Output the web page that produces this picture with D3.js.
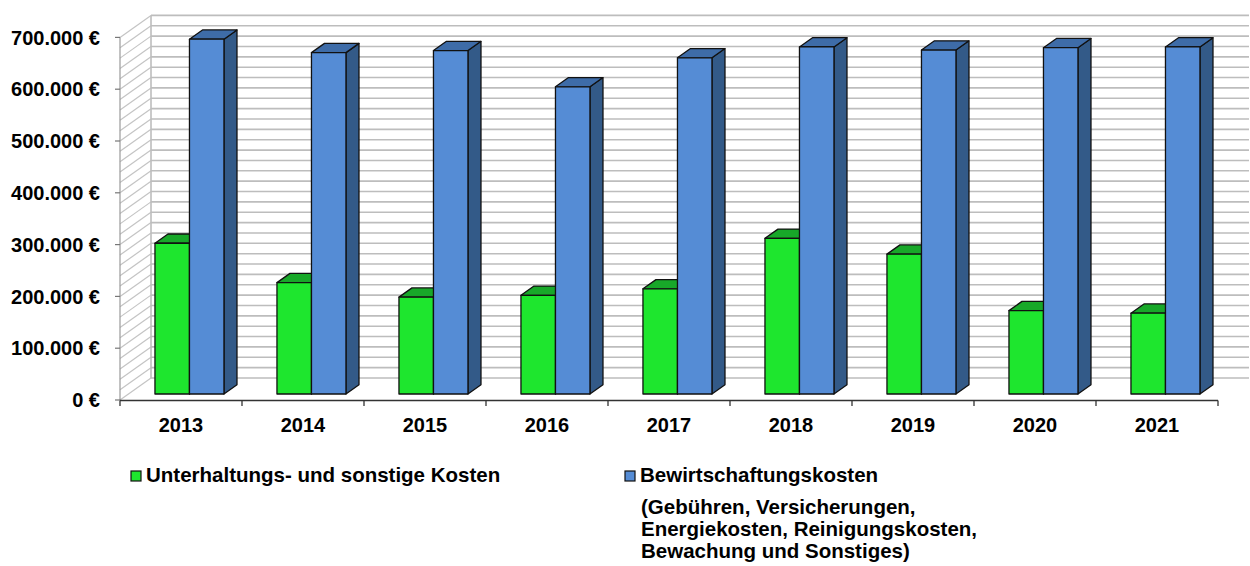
<!DOCTYPE html>
<html>
<head>
<meta charset="utf-8">
<script src="https://cdn.jsdelivr.net/npm/d3@7"></script>
<style>
  body { margin: 0; background: #fff; }
  text { font-family: "Liberation Sans", Arial, sans-serif; font-weight: bold; fill: #000; }
</style>
</head>
<body>
<script>
//chart data
var years = ["2013", "2014", "2015", "2016", "2017", "2018", "2019", "2020", "2021"];
var series = ["Unterhaltung", "Bewirtschaftung"];
var unterhaltung = [291000, 215000, 187000, 190500, 203000, 300500, 270000, 161000, 156000];
var bewirtschaftung = [685000, 659000, 663000, 593000, 649000, 670000, 664000, 668500, 670000];
var yTicks = [0, 100000, 200000, 300000, 400000, 500000, 600000, 700000];
var legendLabels = ["Unterhaltungs- und sonstige Kosten", "Bewirtschaftungskosten"];
var legendNote = ["(Gebühren, Versicherungen,", "Energiekosten, Reinigungskosten,", "Bewachung und Sonstiges)"];

window.onload = function(){
    var w = 1250, h = 566;

    var svg = d3.select("body")
        .append("svg")
        .attr("width", w)
        .attr("height", h);

    //depth of the 3d box
    var depthX = 31, depthY = -22;

    //scales
    var x = d3.scaleBand()
        .domain(years)
        .range([120, 1218]);

    var y = d3.scaleLinear()
        .domain([0, 700000])
        .range([400, 37.4]);

    //position of the bars inside a band
    var xs = d3.scaleBand()
        .domain(series)
        .range([26.5, 95.5]);

    //projects a point: px, value, depth (0 = front, 1 = back)
    function P(px, v, d){
        return [px + depthX * d, y(v) + depthY * d];
    }

    var fmt = function(v){
        return d3.format(",")(v).replace(/,/g, ".") + " €";
    };

    var grid = d3.range(0, 700001, 20000);

    //side wall diagonals
    svg.append("g").selectAll("line")
        .data(grid)
        .enter()
        .append("line")
        .attr("x1", function(d){ return P(120, d, 0)[0]; })
        .attr("y1", function(d){ return P(120, d, 0)[1]; })
        .attr("x2", function(d){ return P(120, d, 1)[0]; })
        .attr("y2", function(d){ return P(120, d, 1)[1]; })
        .style("stroke", "#c4c4c4")
        .style("stroke-width", 1.2);

    //back wall gridlines
    svg.append("g").selectAll("line")
        .data(grid)
        .enter()
        .append("line")
        .attr("x1", function(d){ return P(120, d, 1)[0]; })
        .attr("y1", function(d){ return P(120, d, 1)[1]; })
        .attr("x2", function(d){ return P(1218, d, 1)[0]; })
        .attr("y2", function(d){ return P(1218, d, 1)[1]; })
        .style("stroke", "#bdbdbd")
        .style("stroke-width", 1.6);

    //back wall left edge
    svg.append("line")
        .attr("x1", P(120, 0, 1)[0]).attr("y1", P(120, 0, 1)[1])
        .attr("x2", P(120, 700000, 1)[0]).attr("y2", P(120, 700000, 1)[1])
        .style("stroke", "#bdbdbd")
        .style("stroke-width", 1.6);

    //y axis (front left edge of the side wall)
    svg.append("line")
        .attr("x1", 120).attr("y1", y(0))
        .attr("x2", 120).attr("y2", y(700000))
        .style("stroke", "#9a9a9a")
        .style("stroke-width", 1.2);

    svg.append("g").selectAll("line")
        .data(yTicks)
        .enter()
        .append("line")
        .attr("x1", 115)
        .attr("x2", 120)
        .attr("y1", function(d){ return y(d); })
        .attr("y2", function(d){ return y(d); })
        .style("stroke", "#777")
        .style("stroke-width", 1.2);

    svg.append("g").selectAll("text")
        .data(yTicks)
        .enter()
        .append("text")
        .attr("x", 100)
        .attr("y", function(d){ return y(d); })
        .attr("dy", "0.36em")
        .attr("text-anchor", "end")
        .style("font-size", "20px")
        .text(fmt);

    //bars
    var colors = {
        Unterhaltung: { front: "#1ee62e", top: "#18a829", side: "#129020" },
        Bewirtschaftung: { front: "#558cd5", top: "#3e6ca8", side: "#335a88" }
    };
    var f1 = 0.273, f2 = 0.693;

    var rows = years.map(function(yr, i){
        return { year: yr, values: [
            { key: "Unterhaltung", v: unterhaltung[i] },
            { key: "Bewirtschaftung", v: bewirtschaftung[i] }
        ]};
    });

    var groups = svg.append("g").selectAll("g")
        .data(rows)
        .enter()
        .append("g");

    groups.each(function(row){
        var g = d3.select(this);
        row.values.forEach(function(b){
            var x0 = x(row.year) + xs(b.key);
            var x1 = x0 + xs.bandwidth();
            var c = colors[b.key];
            var pts = function(arr){
                return arr.map(function(p){ return p.join(","); }).join(" ");
            };
            //side face
            g.append("polygon")
                .attr("points", pts([P(x1, 0, f1), P(x1, 0, f2), P(x1, b.v, f2), P(x1, b.v, f1)]))
                .style("fill", c.side)
                .style("stroke", "#111")
                .style("stroke-width", 1.3)
                .style("stroke-linejoin", "round");
            //top face
            g.append("polygon")
                .attr("points", pts([P(x0, b.v, f1), P(x0, b.v, f2), P(x1, b.v, f2), P(x1, b.v, f1)]))
                .style("fill", c.top)
                .style("stroke", "#111")
                .style("stroke-width", 1.3)
                .style("stroke-linejoin", "round");
            //front face
            g.append("polygon")
                .attr("points", pts([P(x0, 0, f1), P(x1, 0, f1), P(x1, b.v, f1), P(x0, b.v, f1)]))
                .style("fill", c.front)
                .style("stroke", "#111")
                .style("stroke-width", 1.3)
                .style("stroke-linejoin", "round");
        });
    });

    //x axis
    svg.append("line")
        .attr("x1", 120).attr("y1", 400.5)
        .attr("x2", 1218).attr("y2", 400.5)
        .style("stroke", "#333")
        .style("stroke-width", 1.3);

    svg.append("g").selectAll("line")
        .data(years.concat(["end"]))
        .enter()
        .append("line")
        .attr("x1", function(d){ return d === "end" ? 1218 : x(d); })
        .attr("x2", function(d){ return d === "end" ? 1218 : x(d); })
        .attr("y1", 400.5)
        .attr("y2", 406)
        .style("stroke", "#333")
        .style("stroke-width", 1.3);

    svg.append("g").selectAll("text")
        .data(years)
        .enter()
        .append("text")
        .attr("x", function(d){ return x(d) + x.bandwidth() / 2; })
        .attr("y", 432)
        .attr("text-anchor", "middle")
        .style("font-size", "20px")
        .text(function(d){ return d; });

    //legend
    var legendX = [131, 625];
    var legend = svg.append("g").selectAll("g")
        .data(series)
        .enter()
        .append("g");

    legend.append("rect")
        .attr("x", function(d, i){ return legendX[i]; })
        .attr("y", 471)
        .attr("width", 10)
        .attr("height", 10)
        .style("fill", function(d){ return colors[d].front; })
        .style("stroke", "#111")
        .style("stroke-width", 1.2);

    legend.append("text")
        .attr("x", function(d, i){ return legendX[i] + 15; })
        .attr("y", 482)
        .style("font-size", "20.5px")
        .text(function(d, i){ return legendLabels[i]; });

    svg.append("g").selectAll("text")
        .data(legendNote)
        .enter()
        .append("text")
        .attr("x", 641)
        .attr("y", function(d, i){ return 514 + i * 21.8; })
        .style("font-size", "20.5px")
        .text(function(d){ return d; });
};
</script>
</body>
</html>
